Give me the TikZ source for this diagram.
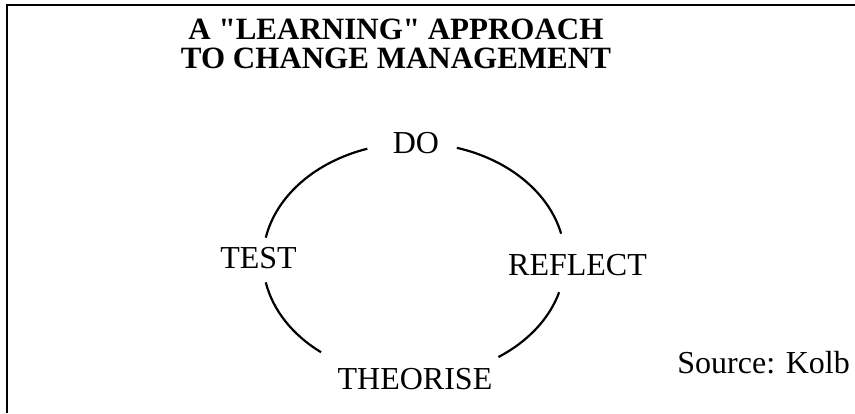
\documentclass[tikz,border=0pt]{standalone}
\usepackage{fontspec}
\setmainfont{Liberation Serif}
\newfontfamily\ttlfont{Liberation Serif}
\tikzset{
  lbl/.style={inner sep=0pt, font=\fontsize{32}{38}\selectfont},
  cycarc/.style={line width=2.2pt}
}
\begin{document}
\begin{tikzpicture}[x=1pt, y=1pt]
	\useasboundingbox (0,0) rectangle (855,413);
	\draw[line width=2pt] (7,0) -- (7,408) -- (855,408);
	
	\node[inner sep=0pt, align=center, font=\ttlfont\fontsize{31}{28.5}\selectfont\bfseries] (title) at (396,369) {A "LEARNING" APPROACH\\TO CHANGE MANAGEMENT};
	
	\coordinate (cyc) at (414,153);
	\node[lbl, anchor=base] (do) at (416,259) {DO};
	\node[lbl, anchor=base] (test) at (258.5,144) {TEST};
	\node[lbl, anchor=base west] (reflect) at (508,138) {REFLECT};
	\node[lbl, anchor=base] (theorise) at (415,24) {THEORISE};
	\node[lbl, anchor=base east] (source) at (850,40) {Source: Kolb};
	
	\draw[cycarc] (cyc) ++(108:151 and 117) arc[start angle=108, end angle=169, x radius=151, y radius=117];
	\draw[cycarc] (cyc) ++(73.5:151 and 117) arc[start angle=73.5, end angle=13, x radius=151, y radius=117];
	\draw[cycarc] (cyc) ++(191:151 and 117) arc[start angle=191, end angle=232, x radius=151, y radius=117];
	\draw[cycarc] (cyc) ++(-16:151 and 117) arc[start angle=-16, end angle=-56, x radius=151, y radius=117];
	
\end{tikzpicture}
\end{document}
